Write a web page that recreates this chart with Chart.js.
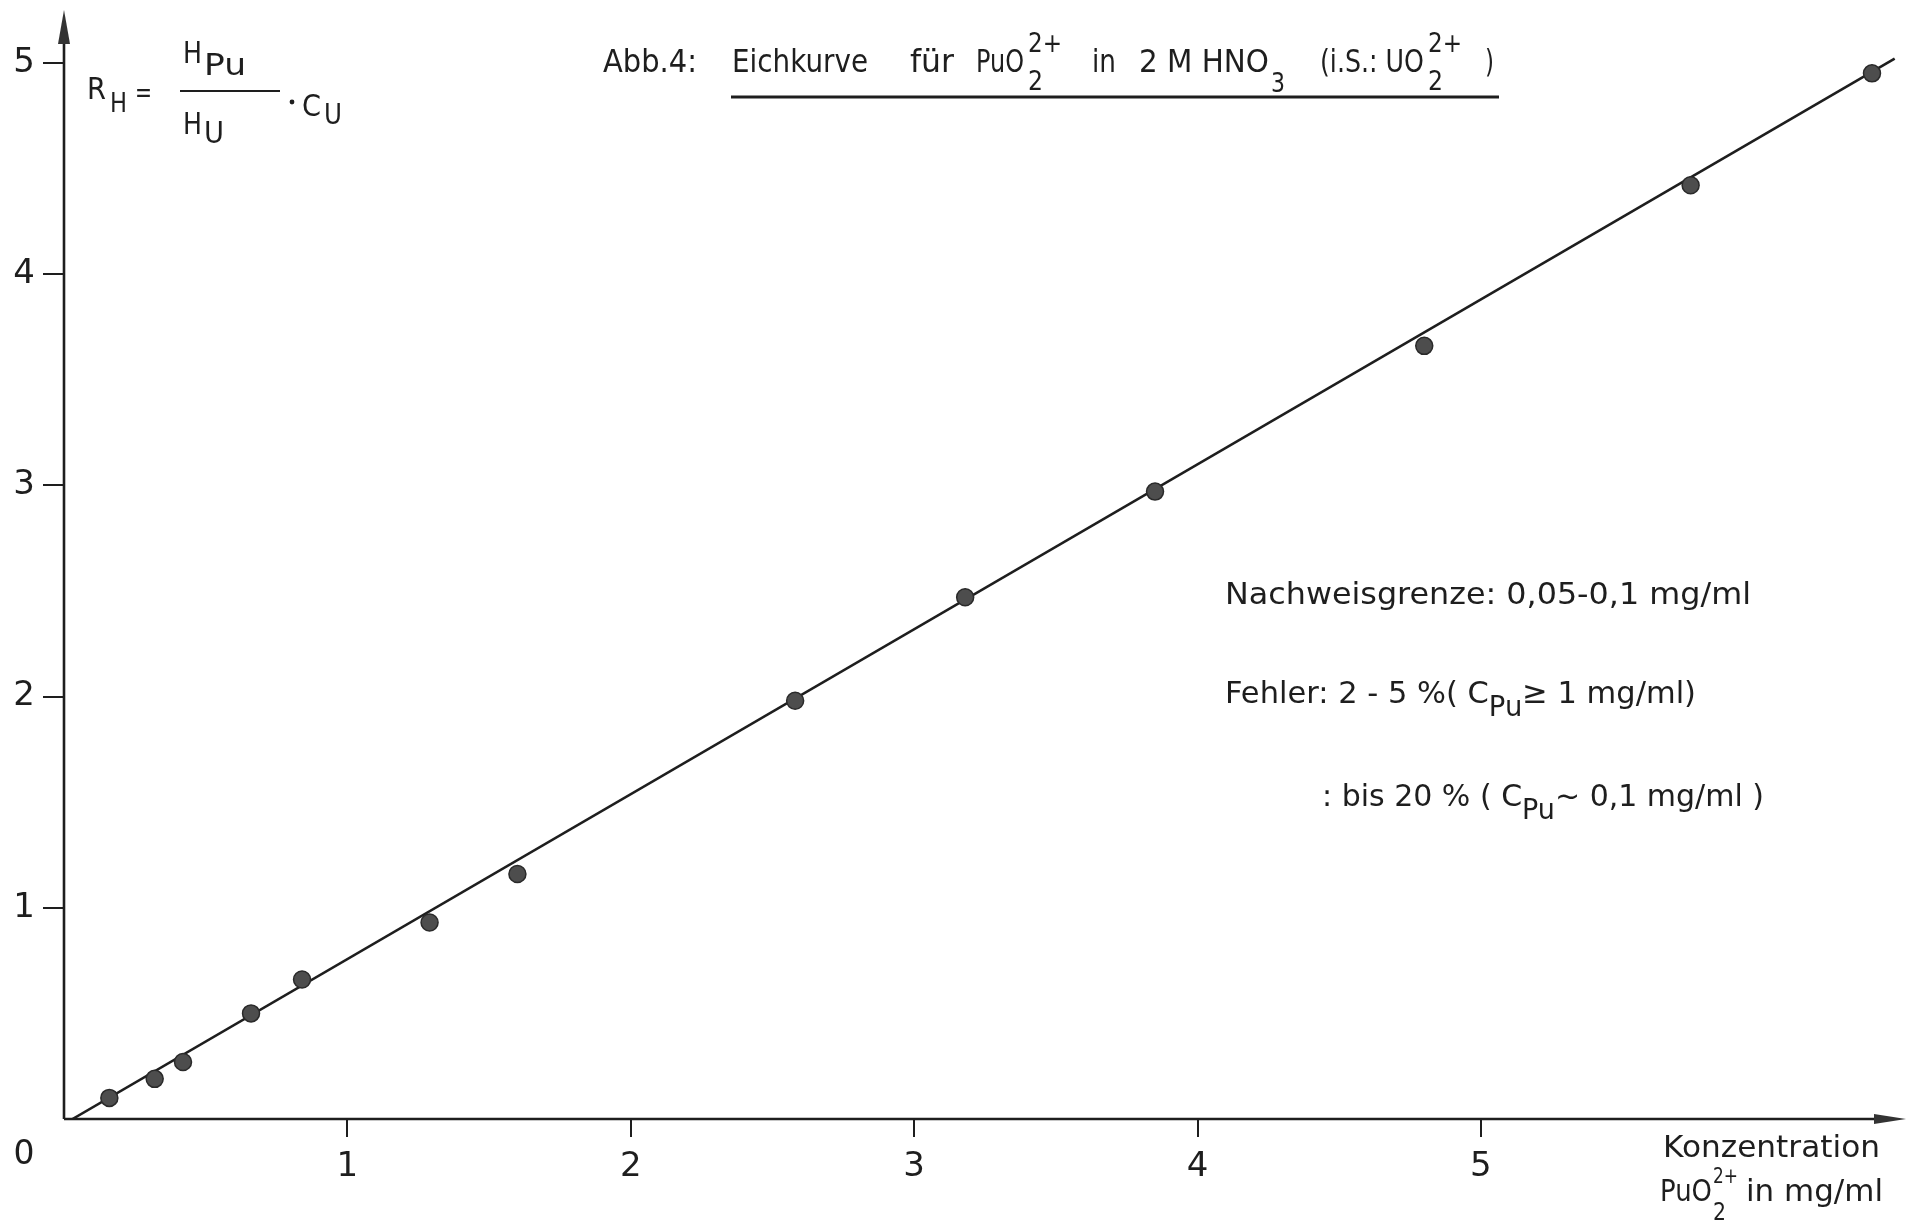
<!DOCTYPE html>
<html>
<head>
<meta charset="utf-8">
<title>Abb.4 Eichkurve PuO2 2+</title>
<script src="https://cdn.jsdelivr.net/npm/chart.js@4.4.1/dist/chart.umd.min.js"></script>
<style>
    html, body { margin: 0; padding: 0; background: #fff; }
    #wrap { width: 1917px; height: 1226px; }
</style>
</head>
<body>
<div id="wrap"><canvas id="eichChart" width="1917" height="1226"></canvas></div>
<script>
// Messwerte: Konzentration PuO2 2+ (mg/ml) und R_H
const concValues = [0.16, 0.32, 0.42, 0.66, 0.84, 1.29, 1.60, 2.58, 3.18, 3.85, 4.80, 5.74, 6.38];
const rhValues   = [0.10, 0.19, 0.27, 0.50, 0.66, 0.93, 1.16, 1.98, 2.47, 2.97, 3.66, 4.42, 4.95];

// Eichgerade: Anfang und Ende
const fitX = [0.03, 6.46];
const fitY = [0.00, 5.02];

// Achsen
const xTicks = [1, 2, 3, 4, 5];
const yTicks = [1, 2, 3, 4, 5];
const xMax = 6.5;
const yMax = 5.25;

const FONT = "'DejaVu Sans', sans-serif";
const INK = '#1e1e1e';

// ─── Helpers ─────────────────────────────────────────────

// text; with opts.w the run is squeezed/stretched to exactly that width
function txt(c, s, x, y, size, opts = {}) {
    c.save();
    c.font = `${size}px ${FONT}`;
    c.fillStyle = INK;
    c.textAlign = opts.align || 'left';
    c.textBaseline = opts.baseline || 'alphabetic';
    if (opts.w) {
        const nat = c.measureText(s).width;
        c.translate(x, y);
        c.scale(opts.w / nat, 1);
        c.fillText(s, 0, 0);
    } else {
        c.fillText(s, x, y);
    }
    c.restore();
}

// one line with subscripts, fitted as a whole to width w
// parts: [text, dy, sizeFactor]
function flow(c, parts, x, y, size, w) {
    c.save();
    c.fillStyle = INK;
    const setFont = p => { c.font = `${size * (p[2] || 1)}px ${FONT}`; };
    let nat = 0;
    parts.forEach(p => { setFont(p); nat += c.measureText(p[0]).width; });
    c.translate(x, y);
    c.scale(w / nat, 1);
    let cx = 0;
    parts.forEach(p => {
        setFont(p);
        c.fillText(p[0], cx, p[1] || 0);
        cx += c.measureText(p[0]).width;
    });
    c.restore();
}

function hline(c, x1, x2, y, w) {
    c.save();
    c.strokeStyle = INK;
    c.lineWidth = w;
    c.beginPath();
    c.moveTo(x1, y);
    c.lineTo(x2, y);
    c.stroke();
    c.restore();
}

// ─── Plugins ─────────────────────────────────────────────

const axesPlugin = {
    id: 'arrowAxes',
    beforeDatasetsDraw(chart) {
        const c = chart.ctx;
        const xs = chart.scales.x, ys = chart.scales.y;
        const x0 = xs.getPixelForValue(0), y0 = ys.getPixelForValue(0);
        const xEnd = xs.getPixelForValue(xMax), yEnd = ys.getPixelForValue(yMax);

        c.save();
        c.strokeStyle = INK;
        c.lineWidth = 2.6;
        c.beginPath();
        c.moveTo(x0, y0);
        c.lineTo(xEnd - 20, y0);
        c.moveTo(x0, y0);
        c.lineTo(x0, yEnd + 20);
        c.stroke();

        c.fillStyle = '#333';
        // Pfeil x
        c.beginPath();
        c.moveTo(xEnd, y0);
        c.lineTo(xEnd - 32, y0 - 5);
        c.lineTo(xEnd - 32, y0 + 5);
        c.closePath();
        c.fill();
        // Pfeil y
        c.beginPath();
        c.moveTo(x0, yEnd);
        c.lineTo(x0 - 6, yEnd + 34);
        c.lineTo(x0 + 6, yEnd + 34);
        c.closePath();
        c.fill();
        c.restore();
    }
};

const textPlugin = {
    id: 'labels',
    afterDraw(chart) {
        const c = chart.ctx;

        // Nullpunkt
        txt(c, '0', 24, 1155, 33, { align: 'center', baseline: 'middle' });

        // Formel R_H = H_Pu / H_U · C_U
        txt(c, 'R', 87, 99, 31, { w: 19 });
        txt(c, 'H', 110, 112, 27, { w: 17 });
        txt(c, '=', 135, 102, 28, { w: 17 });
        txt(c, 'H', 183, 63, 30, { w: 19 });
        txt(c, 'Pu', 204, 75, 30, { w: 42 });
        hline(c, 180, 280, 91, 2);
        txt(c, 'H', 183, 134, 30, { w: 19 });
        txt(c, 'U', 204, 143, 30, { w: 20 });
        c.save();
        c.fillStyle = INK;
        c.beginPath();
        c.arc(292, 102, 2.4, 0, Math.PI * 2);
        c.fill();
        c.restore();
        txt(c, 'C', 302, 116, 31, { w: 19 });
        txt(c, 'U', 324, 124, 28, { w: 18 });

        // Titel
        txt(c, 'Abb.4:', 603, 72, 32, { w: 94 });
        txt(c, 'Eichkurve', 732, 72, 32, { w: 136 });
        txt(c, 'für', 910, 72, 32, { w: 44 });
        txt(c, 'PuO', 976, 72, 32, { w: 48 });
        txt(c, '2', 1028, 90, 27, { w: 15 });
        txt(c, '2+', 1028, 52, 27, { w: 34 });
        txt(c, 'in', 1092, 72, 32, { w: 24 });
        txt(c, '2 M HNO', 1139, 72, 32, { w: 130 });
        txt(c, '3', 1271, 92, 27, { w: 14 });
        txt(c, '(i.S.: UO', 1320, 72, 32, { w: 104 });
        txt(c, '2', 1428, 90, 27, { w: 15 });
        txt(c, '2+', 1428, 52, 27, { w: 34 });
        txt(c, ')', 1485, 72, 32, { w: 9 });
        hline(c, 731, 1499, 97, 3);

        // Hinweise
        flow(c, [['Nachweisgrenze: 0,05-0,1 mg/ml']], 1225, 604, 31, 526);
        flow(c, [['Fehler: 2 - 5 %( C'], ['Pu', 13, 0.9], ['≥ 1 mg/ml)']], 1225, 703, 31, 471);
        flow(c, [[': bis 20 % ( C'], ['Pu', 13, 0.9], ['~ 0,1 mg/ml )']], 1322, 806, 31, 442);

        // Achsenbeschriftung x
        txt(c, 'Konzentration', 1663, 1157, 31, { w: 217 });
        txt(c, 'PuO', 1660, 1201, 31, { w: 52 });
        txt(c, '2', 1713, 1220, 25, { w: 13 });
        txt(c, '2+', 1713, 1183, 22, { w: 25 });
        txt(c, 'in mg/ml', 1746, 1201, 31, { w: 137 });
    }
};

// ─── Chart ───────────────────────────────────────────────

const ctx = document.getElementById('eichChart').getContext('2d');

new Chart(ctx, {
    type: 'scatter',
    data: {
        datasets: [
            {
                label: 'Eichgerade',
                data: fitX.map((x, i) => ({ x, y: fitY[i] })),
                showLine: true,
                borderColor: INK,
                borderWidth: 2.6,
                pointRadius: 0,
                order: 2
            },
            {
                label: 'Messwerte',
                data: concValues.map((x, i) => ({ x, y: rhValues[i] })),
                pointRadius: 8.5,
                backgroundColor: '#4d4d4d',
                borderColor: '#2a2a2a',
                borderWidth: 1.5,
                order: 1
            }
        ]
    },
    options: {
        responsive: false,
        animation: false,
        layout: { padding: { top: 7, right: 11, left: 0, bottom: 0 } },
        plugins: {
            legend: { display: false },
            tooltip: { enabled: false }
        },
        scales: {
            x: {
                type: 'linear',
                min: 0,
                max: xMax,
                afterBuildTicks: s => { s.ticks = xTicks.map(v => ({ value: v })); },
                afterFit: s => { s.height = 107; s.paddingLeft = 0; s.paddingRight = 0; },
                border: { display: false },
                grid: { drawOnChartArea: false, drawTicks: true, tickLength: 18, color: INK, lineWidth: 2 },
                ticks: { font: { family: FONT, size: 34 }, color: INK, padding: 10 }
            },
            y: {
                type: 'linear',
                min: 0,
                max: yMax,
                afterBuildTicks: s => { s.ticks = yTicks.map(v => ({ value: v })); },
                afterFit: s => { s.width = 64; s.paddingTop = 0; s.paddingBottom = 0; },
                border: { display: false },
                grid: { drawOnChartArea: false, drawTicks: true, tickLength: 21, color: INK, lineWidth: 2 },
                ticks: { font: { family: FONT, size: 34 }, color: INK, padding: 8 }
            }
        }
    },
    plugins: [axesPlugin, textPlugin]
});
</script>
</body>
</html>
